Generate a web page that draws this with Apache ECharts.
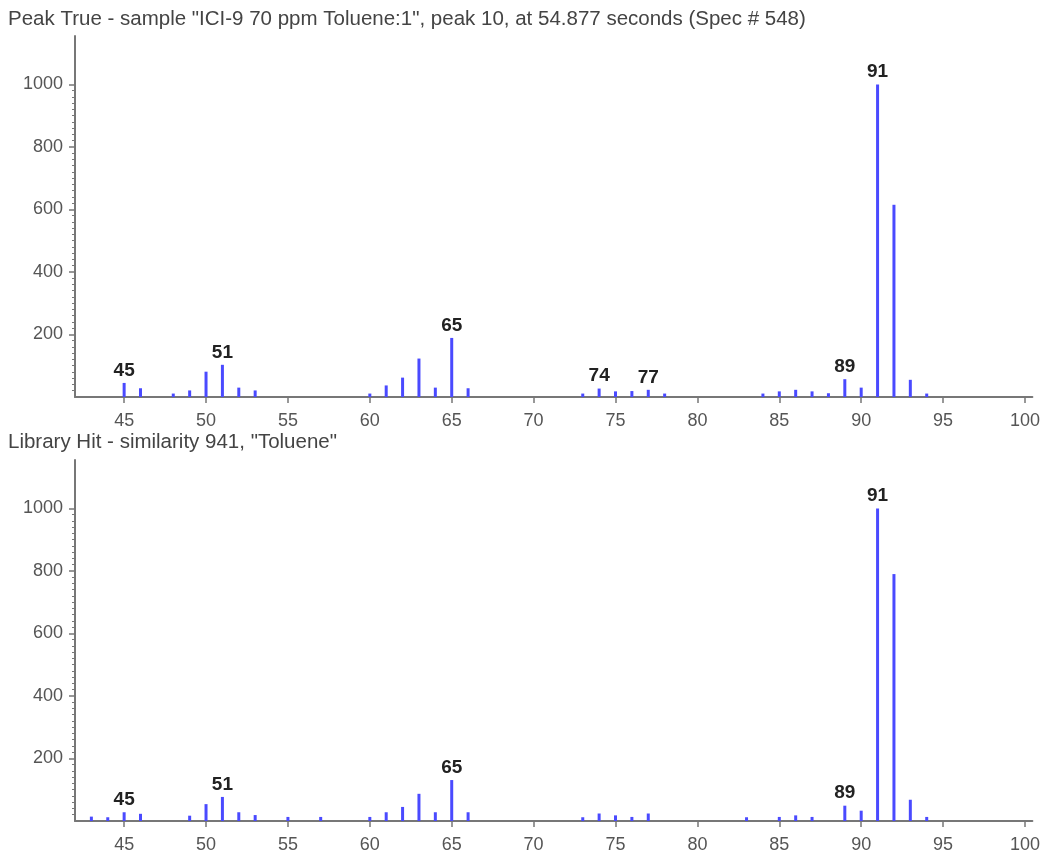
<!DOCTYPE html>
<html>
<head>
<meta charset="utf-8">
<script src="https://cdn.jsdelivr.net/npm/echarts@6/dist/echarts.min.js"></script>
<style>
html,body{margin:0;padding:0;background:#fff;}
#chart{width:1043px;height:854px;}
</style>
</head>
<body>
<div id="chart"></div>
<script>
// ---- data ----
var topTitle = 'Peak True - sample "ICI-9 70 ppm Toluene:1", peak 10, at 54.877 seconds (Spec # 548)';
var botTitle = 'Library Hit - similarity 941, "Toluene"';

var topMasses = [45,46,48,49,50,51,52,53,60,61,62,63,64,65,66,73,74,75,76,77,78,84,85,86,87,88,89,90,91,92,93,94];
var topIntensities = [45,28,11,21,81,103,30,21,11,37,62,123,30,189,28,11,27,18,19,23,11,11,18,23,18,12,57,30,1000,615,55,11];
var topLabeled = [45,51,65,74,77,89,91];

var botMasses = [43,44,45,46,49,50,51,52,53,55,57,60,61,62,63,64,65,66,73,74,75,76,77,83,85,86,87,89,90,91,92,93,94];
var botIntensities = [14,12,28,23,17,54,77,28,19,13,13,13,28,45,87,28,131,28,12,24,18,13,24,12,13,18,13,49,33,1000,790,68,13];
var botLabeled = [45,51,65,89,91];

var xTicks = [45,50,55,60,65,70,75,80,85,90,95,100];
var yTicks = [200,400,600,800,1000];
var yMinorTicks = [];
for (var v = 20; v < 1000; v += 20) { if (v % 200 !== 0) yMinorTicks.push(v); }

// ---- chart ----
var axisColor = '#777';
var labelColor = '#555';
var fontFam = '"Liberation Sans", Arial, sans-serif';

function mkData(masses, vals, labeled) {
  return masses.map(function (m, i) {
    return { value: [m, vals[i]], label: { show: labeled.indexOf(m) >= 0 } };
  });
}

function xAxisFor(gi) {
  return {
    type: 'value', gridIndex: gi, min: 42, max: 100.45,
    axisLine: { show: true, lineStyle: { color: axisColor, width: 2 } },
    axisTick: { show: true, length: 6, lineStyle: { color: axisColor, width: 1.5 }, customValues: xTicks },
    axisLabel: { color: labelColor, fontSize: 18, fontFamily: fontFam, margin: 15, customValues: xTicks,
      formatter: function (v) { return String(v); } },
    splitLine: { show: false }
  };
}
function yAxisFor(gi) {
  return {
    type: 'value', gridIndex: gi, position: 'left', min: 0, max: 1155,
    axisLine: { show: true, lineStyle: { color: axisColor, width: 2 } },
    axisTick: { show: true, length: 6, lineStyle: { color: axisColor, width: 1.5 }, customValues: yTicks },
    axisLabel: { color: labelColor, fontSize: 18, fontFamily: fontFam, margin: 12, customValues: yTicks,
      formatter: function (v) { return String(v); } },
    splitLine: { show: false }
  };
}
function yMinorFor(gi) {
  return {
    type: 'value', gridIndex: gi, position: 'left', offset: 0, min: 0, max: 1155,
    axisLine: { show: false },
    axisTick: { show: true, length: 3, lineStyle: { color: axisColor, width: 1 }, customValues: yMinorTicks },
    axisLabel: { show: false },
    splitLine: { show: false }
  };
}

function barSeries(gi, masses, vals, labeled) {
  return {
    type: 'bar', xAxisIndex: gi, yAxisIndex: gi * 2, barWidth: 3,
    itemStyle: { color: '#4a4aff' },
    label: { position: 'top', distance: 3, color: '#222', fontWeight: 'bold', fontSize: 19, fontFamily: fontFam,
      formatter: function (p) { return p.value[0]; } },
    data: mkData(masses, vals, labeled),
    animation: false
  };
}

var chart = echarts.init(document.getElementById('chart'), null, { renderer: 'canvas' });
chart.setOption({
  animation: false,
  backgroundColor: '#fff',
  graphic: [
    { type: 'text', left: 8, top: 9, style: { text: topTitle, fill: '#444', fontSize: 20.5, fontFamily: fontFam } },
    { type: 'text', left: 8, top: 432, style: { text: botTitle, fill: '#444', fontSize: 20.5, fontFamily: fontFam } }
  ],
  grid: [
    { left: 75, top: 36, width: 958, height: 361 },
    { left: 75, top: 460, width: 958, height: 361 }
  ],
  xAxis: [xAxisFor(0), xAxisFor(1)],
  yAxis: [yAxisFor(0), yMinorFor(0), yAxisFor(1), yMinorFor(1)],
  series: [
    barSeries(0, topMasses, topIntensities, topLabeled),
    barSeries(1, botMasses, botIntensities, botLabeled)
  ]
});
</script>
</body>
</html>
